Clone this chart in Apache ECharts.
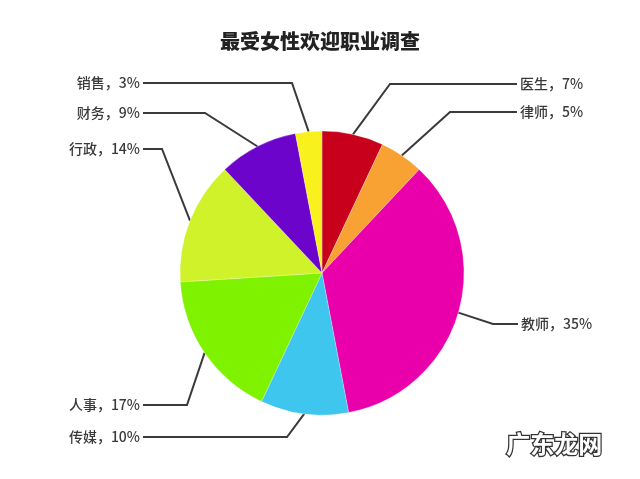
<!DOCTYPE html>
<html>
<head>
<meta charset="utf-8">
<script src="https://cdn.jsdelivr.net/npm/echarts@6/dist/echarts.min.js"></script>
<style>html,body{margin:0;padding:0;background:#fff}#c{width:640px;height:479px}</style>
</head>
<body>
<div id="c"></div>
<script>
const titleText = '最受女性欢迎职业调查';
const categories = ['医生', '律师', '教师', '传媒', '人事', '行政', '财务', '销售'];
const values = [7, 5, 35, 10, 17, 14, 9, 3];
const colors = ['#c8001c', '#f7a232', '#ea00ab', '#3ec6ef', '#7ff200', '#d0f22a', '#6c04cc', '#f9f11e'];
// label anchor placement: [x, y, align, bendX]
const labelPlaces = [
  [520, 84, 'left', 390],
  [520, 112, 'left', 450],
  [521, 324, 'left', 493],
  [140, 437, 'right', 287],
  [140, 405, 'right', 187],
  [140, 149, 'right', 162],
  [140, 113, 'right', 205],
  [140, 83, 'right', 292]
];

const chart = echarts.init(document.getElementById('c'), null, {renderer: 'canvas'});
const data = categories.map((n, i) => ({name: n, value: values[i], itemStyle: {color: colors[i]}}));

chart.setOption({
  backgroundColor: '#fff',
  animation: false,
  title: {
    text: titleText,
    left: 'center',
    top: 26,
    padding: [5, 5, 5, 25],
    textStyle: {fontFamily: 'Noto Sans CJK SC', fontWeight: 900, fontSize: 20, color: '#222'}
  },
  graphic: [{
    type: 'text',
    left: 505,
    top: 431,
    style: {text: '广东龙网', fontFamily: 'Noto Sans CJK SC', fontWeight: 'bold', fontSize: 24, fill: '#fff', stroke: '#333', lineWidth: 2.5}
  }],
  series: [{
    type: 'pie',
    center: [322, 273],
    radius: 142,
    startAngle: 90,
    clockwise: true,
    avoidLabelOverlap: false,
    data: data,
    itemStyle: {borderColor: 'rgba(255,255,255,0.5)', borderWidth: 0.5},
    label: {
      show: true,
      formatter: '{b}，{c}%',
      fontFamily: 'Noto Sans CJK SC',
      fontWeight: 500,
      fontSize: 14,
      color: '#3a3a3a'
    },
    labelLine: {show: true, length: 10, length2: 10, lineStyle: {color: '#3a3a3a', width: 2}},
    labelLayout: function (p) {
      const pl = labelPlaces[p.dataIndex];
      const p0 = p.labelLinePoints[0];
      const endX = pl[2] === 'left' ? pl[0] - 3 : pl[0] + 3;
      return {
        x: pl[0], y: pl[1], align: pl[2], verticalAlign: 'middle',
        labelLinePoints: [[p0[0], p0[1]], [pl[3], pl[1]], [endX, pl[1]]]
      };
    }
  }]
});
</script>
</body>
</html>
